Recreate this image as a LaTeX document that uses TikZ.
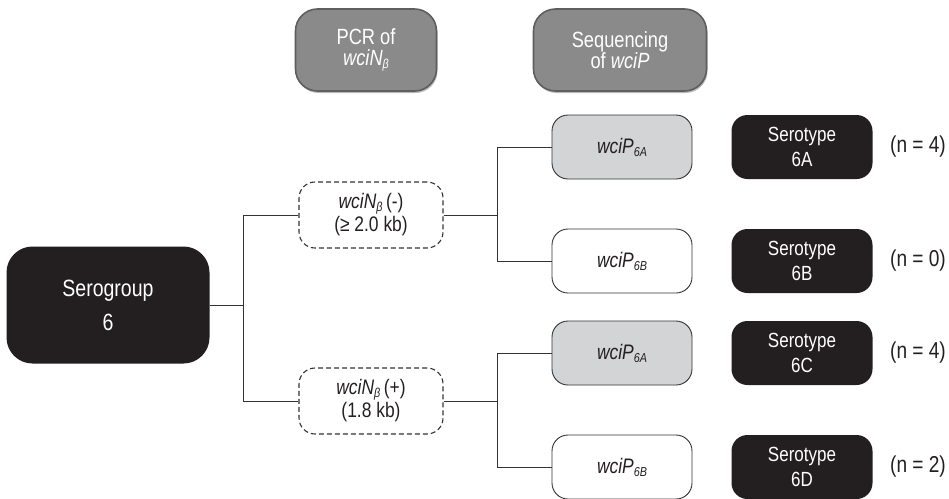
\documentclass[tikz,border=0pt]{standalone}
\usepackage{fontspec}
\setmainfont{Liberation Sans}[FakeStretch=0.83]
\usetikzlibrary{shapes.misc, arrows, shadows}

\definecolor{boxblack}{HTML}{231F20}
\definecolor{genegray}{HTML}{D3D4D5}
\definecolor{hdrgray}{HTML}{8A8A8A}
\definecolor{hdrdark}{HTML}{5E5E5E}
\definecolor{linegray}{HTML}{333333}

\newcommand{\lowsub}[1]{\raisebox{-3pt}{\fontsize{13}{13}\selectfont\itshape #1}}

\begin{document}
\begin{tikzpicture}[node distance=100pt]
%
% Sketch:
%                 PCR           Sequencing
%                            -> wciP 6A   Serotype 6A (n)
%              -> N(-) ------|
% Serogroup 6 -|             -> wciP 6B   Serotype 6B (n)
%              -> N(+) ------|
%                            -> wciP 6A   Serotype 6C (n)
%                            -> wciP 6B   Serotype 6D (n)
%
\tikzstyle{header} = [rectangle, rounded corners=22pt, minimum width=141pt, minimum height=82pt, text centered, draw=hdrdark, line width=1.6pt, fill=hdrgray, text=white, align=center, font=\fontsize{22}{21}\selectfont, drop shadow={shadow xshift=1pt, shadow yshift=-2pt, fill=black!55}]
\tikzstyle{group} = [rectangle, rounded corners=26pt, minimum width=203pt, minimum height=117pt, fill=boxblack, text=white, align=center, font=\fontsize{23.5}{34}\selectfont]
\tikzstyle{pcrresult} = [rectangle, rounded corners=16pt, minimum width=144pt, minimum height=66pt, draw=linegray, dash pattern=on 5pt off 3pt, line width=1.1pt, align=center, text=boxblack, font=\fontsize{21}{23}\selectfont]
\tikzstyle{gene} = [rectangle, rounded corners=16pt, minimum width=140pt, minimum height=64pt, draw=linegray, line width=0.9pt, fill=white, text=boxblack, font=\fontsize{21}{24}\selectfont\itshape]
\tikzstyle{serotype} = [rectangle, rounded corners=16pt, minimum width=141pt, minimum height=64pt, fill=boxblack, text=white, align=center, font=\fontsize{20.5}{25}\selectfont]
\tikzstyle{count} = [text=boxblack, font=\fontsize{23}{24}\selectfont]
\tikzstyle{line} = [line width=0.9pt, draw=linegray]
\useasboundingbox (0,0) rectangle (949pt,-498pt);
% Nodes
\node (sero) [group] at (108pt,-305pt) {Serogroup\\6};
\node (neg) [pcrresult, right of=sero, xshift=163pt, yshift=90pt] {\textit{wciN}\lowsub{β}\,(-)\\(≥ 2.0 kb)};
\node (pos) [pcrresult, below of=neg, yshift=-86pt] {\textit{wciN}\lowsub{β}\,(+)\\(1.8 kb)};
\node (pcr) [header, above of=neg, xshift=-5pt, yshift=65pt] {PCR of\\\textit{wciN}\lowsub{β}};
\node (geneA1) [gene, fill=genegray, right of=neg, xshift=151pt, yshift=68pt] {wciP\lowsub{6A}};
\node (geneB1) [gene, below of=geneA1, yshift=-14pt] {wciP\lowsub{6B}};
\node (geneA2) [gene, fill=genegray, right of=pos, xshift=151pt, yshift=48pt] {wciP\lowsub{6A}};
\node (geneB2) [gene, below of=geneA2, yshift=-14pt] {wciP\lowsub{6B}};
\node (seq) [header, minimum width=173pt, above of=geneA1, xshift=-2pt, yshift=-3pt] {Sequencing\\of \textit{wciP}};
\node (st6A) [serotype, right of=geneA1, xshift=80pt] {Serotype\\6A};
\node (st6B) [serotype, right of=geneB1, xshift=80pt] {Serotype\\6B};
\node (st6C) [serotype, right of=geneA2, xshift=80pt] {Serotype\\6C};
\node (st6D) [serotype, right of=geneB2, xshift=80pt] {Serotype\\6D};
\node (n6A) [count, right of=st6A, xshift=16pt] {(n = 4)};
\node (n6B) [count, right of=st6B, xshift=16pt] {(n = 0)};
\node (n6C) [count, right of=st6C, xshift=16pt] {(n = 4)};
\node (n6D) [count, right of=st6D, xshift=16pt] {(n = 2)};

% Lines
\draw [line] (sero.east) -- ++(33.5pt,0) |- (neg.west);
\draw [line] (sero.east) -- ++(33.5pt,0) |- (pos.west);
\draw [line] (neg.east) -- ++(54pt,0) |- (geneA1.west);
\draw [line] (neg.east) -- ++(54pt,0) |- (geneB1.west);
\draw [line] (pos.east) -- ++(54pt,0) |- (geneA2.west);
\draw [line] (pos.east) -- ++(54pt,0) |- (geneB2.west);

\end{tikzpicture}
\end{document}
